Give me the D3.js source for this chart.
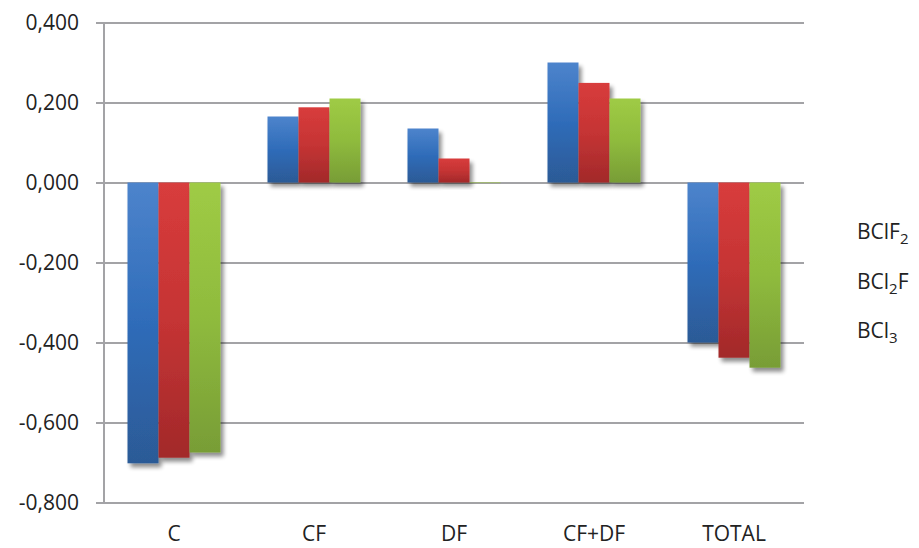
<!DOCTYPE html>
<html>
<head>
<meta charset="utf-8">
<script src="https://cdn.jsdelivr.net/npm/d3@7"></script>
<style>
  html, body { margin: 0; padding: 0; background: #fff; }
  svg { display: block; font-family: "Open Sans", Lato, sans-serif; }
</style>
</head>
<body>
<svg id="chart" width="919" height="548"></svg>
<script>
// Categories and series values
const categories = ["C", "CF", "DF", "CF+DF", "TOTAL"];
const seriesBClF2 = [-0.702, 0.165, 0.135, 0.300, -0.400];
const seriesBCl2F = [-0.688, 0.188, 0.060, 0.249, -0.438];
const seriesBCl3  = [-0.675, 0.210, 0.000, 0.210, -0.463];
const yTicks = [-0.8, -0.6, -0.4, -0.2, 0, 0.2, 0.4];

const series = [
  { key: "BClF2", values: seriesBClF2, light: "#4d84cc", mid: "#2f6cb9", dark: "#2c5a96" },
  { key: "BCl2F", values: seriesBCl2F, light: "#d83c3c", mid: "#c53434", dark: "#a2292a" },
  { key: "BCl3",  values: seriesBCl3,  light: "#9fcb45", mid: "#8fbb3d", dark: "#789d36" }
];

const svg = d3.select("#chart");
const plotLeft = 104, plotRight = 804, plotTop = 22.5, plotBottom = 502.5;
const fontSize = 21;

const x0 = d3.scaleBand().domain(categories).range([plotLeft, plotRight]).padding(0);
const x1 = d3.scaleBand().domain(series.map(s => s.key))
  .range([0, x0.bandwidth()]).paddingInner(0).paddingOuter(0.758);
const y = d3.scaleLinear().domain([-0.8, 0.4]).range([plotBottom, plotTop]);

const defs = svg.append("defs");
series.forEach(s => {
  const g = defs.append("linearGradient").attr("id", "grad-" + s.key)
    .attr("x1", 0).attr("y1", 0).attr("x2", 0).attr("y2", 1);
  g.append("stop").attr("offset", "0%").attr("stop-color", s.light);
  g.append("stop").attr("offset", "50%").attr("stop-color", s.mid);
  g.append("stop").attr("offset", "100%").attr("stop-color", s.dark);
});
const shadow = defs.append("filter").attr("id", "shadow")
  .attr("x", "-20%").attr("y", "-20%").attr("width", "150%").attr("height", "150%");
shadow.append("feGaussianBlur").attr("in", "SourceAlpha").attr("stdDeviation", 2.2).attr("result", "b");
shadow.append("feOffset").attr("in", "b").attr("dx", 2.5).attr("dy", 3.5).attr("result", "o");
shadow.append("feComponentTransfer").attr("in", "o").attr("result", "s")
  .append("feFuncA").attr("type", "linear").attr("slope", 0.45);
const merge = shadow.append("feMerge");
merge.append("feMergeNode").attr("in", "s");
merge.append("feMergeNode").attr("in", "SourceGraphic");

// Gridlines with outward ticks
const yAxis = d3.axisLeft(y).tickValues(yTicks)
  .tickSize(-(plotRight - plotLeft))
  .tickSizeOuter(0)
  .tickPadding(25)
  .tickFormat(d => d3.format(".3f")(d).replace("−", "-").replace(".", ","));
const ga = svg.append("g").attr("transform", `translate(${plotLeft},0)`).call(yAxis);
ga.select(".domain").remove();
ga.selectAll(".tick line").attr("x1", -8).attr("stroke", "#a3a3a6").attr("stroke-width", 2);
ga.selectAll(".tick text").attr("fill", "#222").attr("font-size", fontSize)
  .attr("font-family", "'Open Sans', sans-serif");

// Vertical axis line
svg.append("line").attr("x1", plotLeft).attr("x2", plotLeft).attr("y1", plotTop).attr("y2", plotBottom)
  .attr("stroke", "#a3a3a6").attr("stroke-width", 2);

// Bars
const groups = svg.append("g").selectAll("g").data(categories).join("g")
  .attr("transform", d => `translate(${x0(d)},0)`);
groups.selectAll("rect")
  .data((c, i) => series.map(s => ({ key: s.key, v: s.values[i] })))
  .join("rect")
  .attr("x", d => x1(d.key))
  .attr("width", x1.bandwidth())
  .attr("y", d => y(Math.max(0, d.v)))
  .attr("height", d => Math.max(0.6, Math.abs(y(d.v) - y(0))))
  .attr("fill", d => `url(#grad-${d.key})`)
  .attr("filter", "url(#shadow)");

// Category labels
svg.append("g").selectAll("text").data(categories).join("text")
  .attr("x", d => x0(d) + x0.bandwidth() / 2)
  .attr("y", 541)
  .attr("text-anchor", "middle")
  .attr("font-size", fontSize)
  .attr("fill", "#222")
  .text(d => d);

// Legend (text entries with subscripts)
const legendItems = [
  [["BClF", 0], ["2", 5]],
  [["BCl", 0], ["2", 5], ["F", -5]],
  [["BCl", 0], ["3", 5]]
];
const legend = svg.append("g");
legendItems.forEach((parts, i) => {
  const t = legend.append("text").attr("x", 857).attr("y", 239 + i * 49.5)
    .attr("font-size", fontSize).attr("fill", "#222");
  parts.forEach(([txt, dy]) => {
    const ts = t.append("tspan").attr("dy", dy).text(txt);
    if (dy > 0) ts.attr("font-size", 15);
  });
});
</script>
</body>
</html>
